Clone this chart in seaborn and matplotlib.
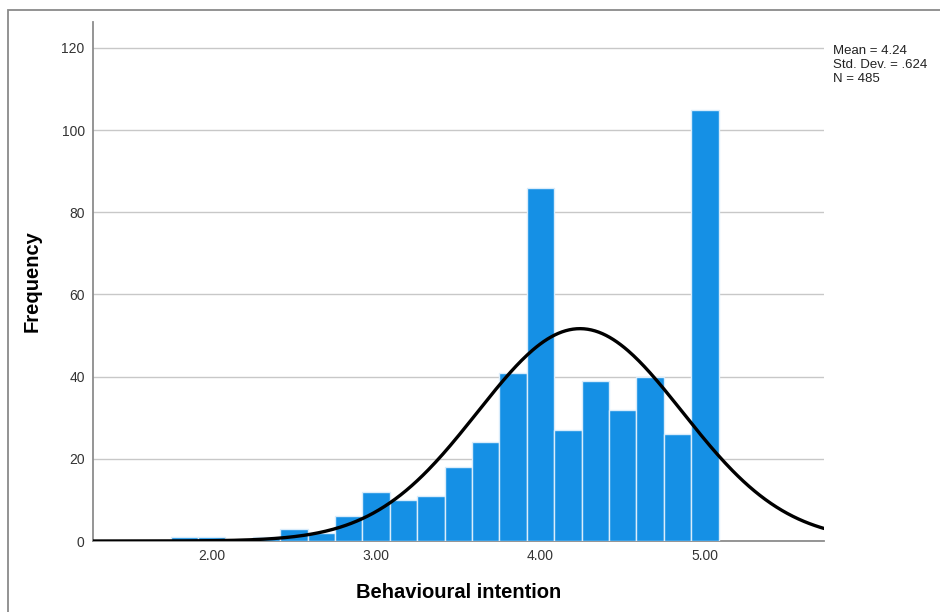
import numpy as np
import pandas as pd
import matplotlib
matplotlib.use("Agg")
import matplotlib.pyplot as plt
import seaborn as sns
from matplotlib.patches import Rectangle

# Scale scores (means of six items) and how many respondents had each
scores = [1.83, 2.00, 2.33, 2.50, 2.67, 2.83, 3.00, 3.17, 3.33, 3.50,
          3.67, 3.83, 4.00, 4.17, 4.33, 4.50, 4.67, 4.83, 5.00]
counts = [1, 1, 1, 3, 2, 6, 12, 10, 11, 18,
          24, 41, 86, 27, 39, 32, 40, 26, 105]

mean_val = 4.24
sd_val = 0.624
n_val = 485

x_ticks = [2.0, 3.0, 4.0, 5.0]
x_tick_labels = ["2.00", "3.00", "4.00", "5.00"]
y_ticks = [0, 20, 40, 60, 80, 100, 120]

bin_width = 1 / 6
x_min, x_max = 1.278, 5.724

sns.set_theme(style="white")
plt.rcParams["font.family"] = ["Liberation Sans", "DejaVu Sans"]

fig = plt.figure(figsize=(9.4, 6.12), dpi=100)
ax = fig.add_axes([0.0989, 0.116, 0.7777, 0.848])

# Outer chart frame
fig.patches.append(Rectangle((8 / 940, -0.05), 1.2, 1 - 10 / 612 + 0.05,
                             transform=fig.transFigure, fill=False,
                             edgecolor="#8a8a8a", linewidth=1.3, zorder=0))

df = pd.DataFrame({"score": scores, "count": counts})
edges = [float(e) for e in np.arange(1.5 - bin_width / 2, 5.0 + bin_width, bin_width)]
sns.histplot(data=df, x="score", weights="count", bins=edges, ax=ax,
             color="#1590e5", alpha=1.0, edgecolor="#d9ecfb", linewidth=1.0,
             zorder=3)

# Normal curve from the reported mean and standard deviation
xs = np.linspace(x_min, x_max, 400)
ys = n_val * bin_width * np.exp(-0.5 * ((xs - mean_val) / sd_val) ** 2) / (sd_val * np.sqrt(2 * np.pi))
sns.lineplot(x=xs, y=ys, ax=ax, color="black", linewidth=2.4, zorder=4)

ax.set_xlim(x_min, x_max)
ax.set_ylim(0, 126.3)
ax.set_xticks(x_ticks)
ax.set_xticklabels(x_tick_labels)
ax.set_yticks(y_ticks)
ax.tick_params(axis="both", length=0, labelsize=10, labelcolor="#333333", pad=6)
ax.yaxis.grid(True, color="#c8c8c8", linewidth=1.0, zorder=0)
ax.set_axisbelow(True)

for side in ["top", "right"]:
    ax.spines[side].set_visible(False)
for side in ["left", "bottom"]:
    ax.spines[side].set_color("#8c8c8c")
    ax.spines[side].set_linewidth(1.3)

ax.set_xlabel("Behavioural intention", fontsize=14.5, fontweight="bold", labelpad=14, color="black")
ax.set_ylabel("Frequency", fontsize=14.5, fontweight="bold", labelpad=14, color="black")

fig.text(833 / 940, 1 - 65 / 612,
         f"Mean = {mean_val:.2f}\nStd. Dev. = .{int(round(sd_val * 1000))}\nN = {n_val}",
         fontsize=9.5, va="center", ha="left", color="#222222", linespacing=1.2)

fig.savefig("out.png", dpi=100)
